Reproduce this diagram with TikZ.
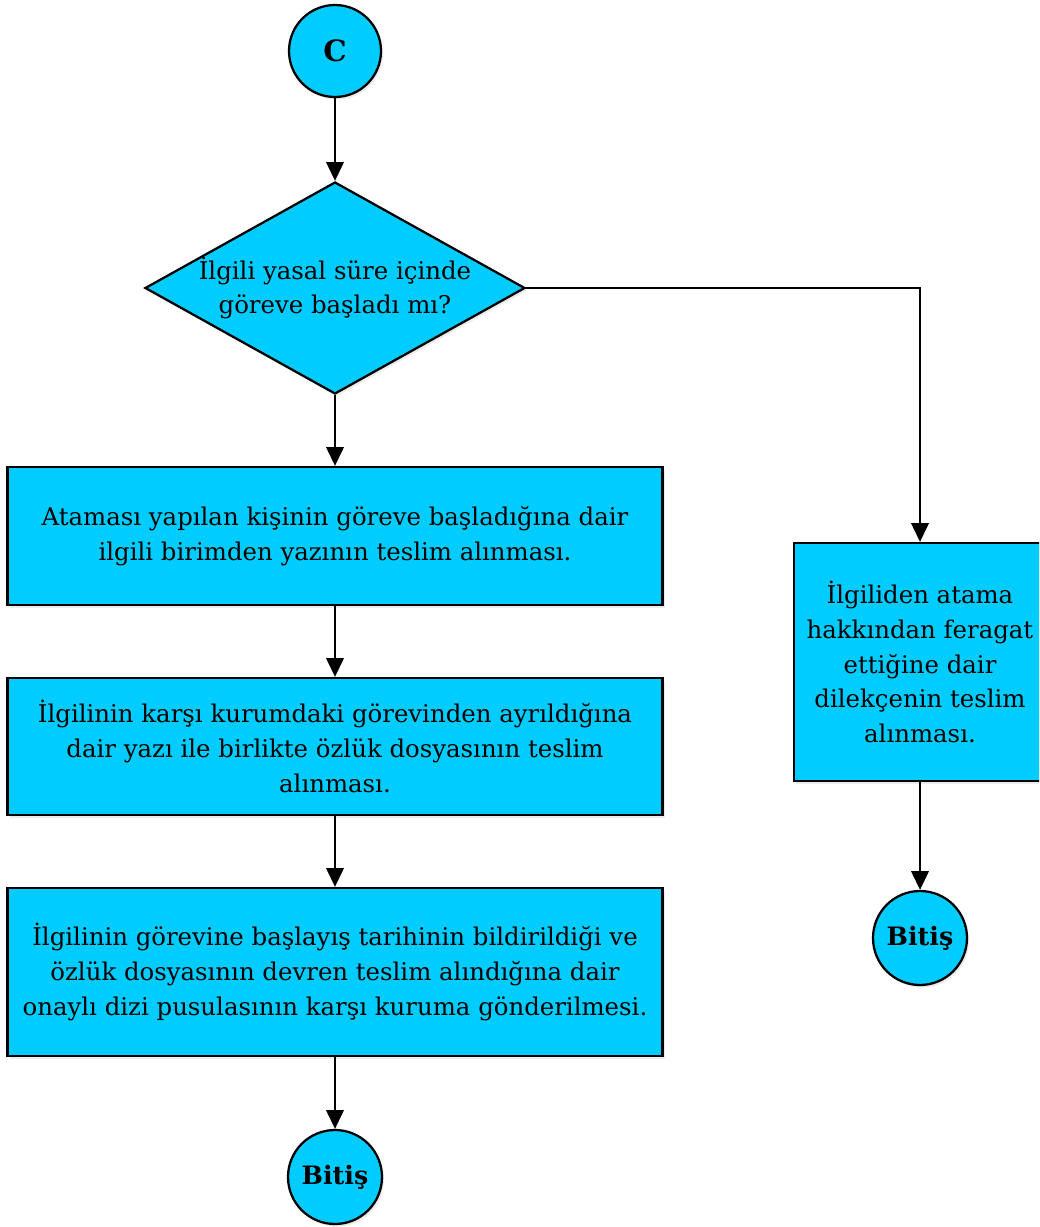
\documentclass[tikz,border=0pt]{standalone}
\usepackage{fontspec}
\setmainfont{DejaVu Serif}
\usetikzlibrary{shapes.geometric,arrows.meta,shadows}
\definecolor{boxblue}{HTML}{00CCFF}
\begin{document}
\begin{tikzpicture}[x=0.75pt,y=-0.75pt,
  txt/.style={font=\fontsize{18.3}{26}\selectfont},
  shd/.style={drop shadow={opacity=0.15,shadow xshift=1.5pt,shadow yshift=-2pt,fill=gray}},
  procbox/.style={draw=black,line width=1.7pt,fill=boxblue,shd,align=center,inner sep=0pt,txt},
  term/.style={draw=black,line width=1.7pt,fill=boxblue,shd,circle,inner sep=0pt,font=\bfseries\fontsize{19}{22}\selectfont},
  dec/.style={draw=black,line width=1.7pt,fill=boxblue,shd,diamond,inner sep=0pt,minimum width=285pt,minimum height=159pt},
  conn/.style={line width=1.7pt,-{Triangle[length=14pt,width=13pt]}}]
\useasboundingbox (0,0) rectangle (1039,1227);
\begin{scope}
\clip (0,0) rectangle (1039,1227);
\node[term,minimum size=69pt] (c) at (335,51) {\fontsize{22}{24}\selectfont C};
\node[dec,label={[txt,align=center]center:{İlgili yasal süre içinde\\göreve başladı mı?}}] (d) at (335,288) {};
\node[procbox,minimum width=491.25pt,minimum height=103.5pt] (b1) at (335,536) {Ataması yapılan kişinin göreve başladığına dair\\ilgili birimden yazının teslim alınması.};
\node[procbox,minimum width=491.25pt,minimum height=102.75pt] (b2) at (335,746.5) {İlgilinin karşı kurumdaki görevinden ayrıldığına\\dair yazı ile birlikte özlük dosyasının teslim\\alınması.};
\node[procbox,minimum width=491.25pt,minimum height=126pt] (b3) at (335,972) {İlgilinin görevine başlayış tarihinin bildirildiği ve\\özlük dosyasının devren teslim alındığına dair\\onaylı dizi pusulasının karşı kuruma gönderilmesi.};
\node[term,minimum size=70.5pt] (e1) at (335,1177) {Bitiş};
\node[procbox,minimum width=189pt,minimum height=178.5pt] (b4) at (920,662) {İlgiliden atama\\hakkından feragat\\ettiğine dair\\dilekçenin teslim\\alınması.};
\node[term,minimum size=70.5pt] (e2) at (920,938) {Bitiş};
\end{scope}
\draw[conn] (c.south) -- (d.north);
\draw[conn] (d.south) -- (b1.north);
\draw[conn] (b1.south) -- (b2.north);
\draw[conn] (b2.south) -- (b3.north);
\draw[conn] (b3.south) -- (e1.north);
\draw[conn] (d.east) -| (b4.north);
\draw[conn] (b4.south) -- (e2.north);
\end{tikzpicture}
\end{document}
